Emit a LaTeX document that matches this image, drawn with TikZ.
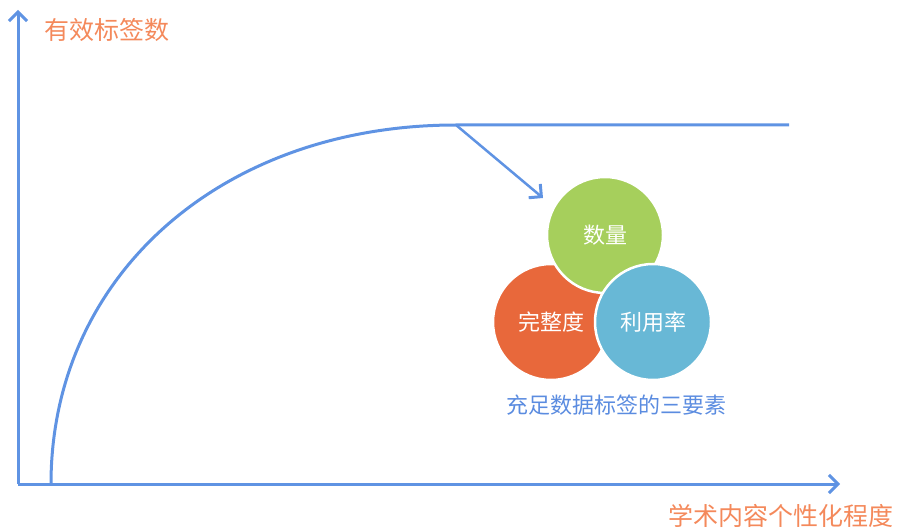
\documentclass[tikz,border=0pt]{standalone}
\usepackage{fontspec}
\setmainfont{Noto Sans CJK SC}
\usetikzlibrary{arrows.meta}
\definecolor{axisblue}{HTML}{5F93E3}
\definecolor{labelorange}{HTML}{F4895B}
\definecolor{cgreen}{HTML}{A6CF5C}
\definecolor{corange}{HTML}{E8683B}
\definecolor{cblue}{HTML}{68B8D6}
\definecolor{textblue}{HTML}{5B8CE0}
\tikzset{
  axisline/.style={draw=axisblue, line width=3pt, -{Straight Barb[length=9pt,width=18pt,line width=3pt]}},
  curveline/.style={draw=axisblue, line width=3pt},
  bubble/.style={circle, draw=white, line width=2.5pt, minimum size=116pt, inner sep=0pt, text=white, font=\fontsize{22pt}{24pt}\selectfont},
  axislabel/.style={text=labelorange, font=\fontsize{25pt}{28pt}\selectfont},
}
\begin{document}
\begin{tikzpicture}[x=1pt,y=-1pt]
\useasboundingbox (0,0) rectangle (899,529);
\coordinate (O) at (18,484);
\coordinate (ytop) at (18,10);
\coordinate (xend) at (840,484);
\coordinate (cstart) at (51,484);
\coordinate (peak) at (456,125);
\coordinate (hend) at (789,125);
\coordinate (atip) at (543,198);
\draw[axisline] (O) -- (ytop);
\draw[axisline] (O) -- (xend);
\draw[curveline] (cstart) .. controls (51,276) and (221,125) .. (peak) -- (hend);
\draw[axisline, line width=2.5pt] (peak) -- (atip);
\node[axislabel] (ylab) at (107,30) {有效标签数};
\node[axislabel] (xlab) at (781,516) {学术内容个性化程度};
\node[bubble, fill=corange] (c2) at (551,322) {完整度};
\node[bubble, fill=cgreen] (c1) at (605,235) {数量};
\node[bubble, fill=cblue] (c3) at (653,322) {利用率};
\node[text=textblue, font=\fontsize{22pt}{24pt}\selectfont] (cap) at (616,405) {充足数据标签的三要素};
\end{tikzpicture}
\end{document}
